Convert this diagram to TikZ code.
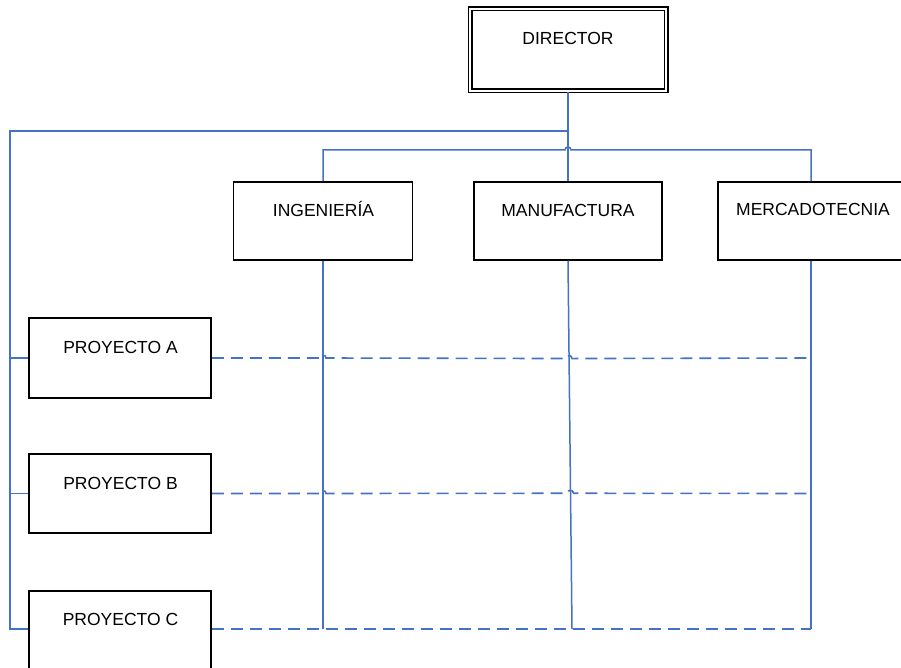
\documentclass[tikz,border=0pt]{standalone}
\usepackage{fontspec}
\setmainfont{Liberation Sans}
\usetikzlibrary{calc}
\definecolor{linkblue}{HTML}{4472C4}
\tikzset{
  box/.style={draw=black, line width=1.5pt, fill=white, inner sep=0pt},
  dirbox/.style={box, double, line width=1.4pt, double distance=2.2pt},
  lbl/.style={anchor=base, inner sep=0pt, font=\fontsize{17.5}{21}\selectfont},
  solidlink/.style={draw=linkblue, line width=1.5pt},
  dashlink/.style={draw=linkblue, line width=1.6pt, dash pattern=on 12pt off 7pt},
}
\begin{document}
\begin{tikzpicture}[x=1pt, y=-1pt]
  \clip (0,0) rectangle (901,668);

  % boxes
  \node[dirbox, minimum width=196pt, minimum height=82pt] (dir) at (568,50) {};
  \node[box, minimum width=179pt, minimum height=78pt] (ing) at (323,221) {};
  \node[box, minimum width=188pt, minimum height=78pt] (man) at (568,221) {};
  \node[box, minimum width=186pt, minimum height=78pt] (merc) at (811,221) {};
  \node[box, minimum width=182pt, minimum height=80pt] (pa) at (120,358) {};
  \node[box, minimum width=182pt, minimum height=79pt] (pb) at (120,493.5) {};
  \node[box, minimum width=182pt, minimum height=84pt] (pc) at (120,633) {};

  % labels
  \node[lbl] (dirT) at (568,45) {DIRECTOR};
  \node[lbl] (ingT) at (323.5,216.5) {INGENIERÍA};
  \node[lbl] (manT) at (568,216.5) {MANUFACTURA};
  \node[lbl] (mercT) at (813,216) {MERCADOTECNIA};
  \node[lbl] (paT) at (120.5,353) {PROYECTO A};
  \node[lbl] (pbT) at (120.5,489) {PROYECTO B};
  \node[lbl] (pcT) at (120.5,625) {PROYECTO C};

  % routing points
  \coordinate (tl) at (10,131);
  \coordinate (bl) at (10,629);
  \coordinate (bus) at (323,150);
  \coordinate (mb) at (572,629);

  % director to departments
  \draw[solidlink] (dir.south) -- (man.north);
  \draw[solidlink] (ing.north) -- (ing.north |- bus)
    -- ($(man.north |- bus)+(-3,0)$) arc[start angle=180, end angle=0, radius=3pt]
    -- (merc.north |- bus) -- (merc.north);

  % director to projects
  \draw[solidlink] (dir.south |- tl) -- (tl) -- (bl) -- (pc.west |- bl);
  \draw[solidlink] (tl |- pa.west) -- (pa.west);
  \draw[solidlink] (tl |- pb.west) -- (pb.west);

  % department verticals
  \draw[solidlink] (ing.south) -- (ing.south |- bl);
  \draw[solidlink] (man.south) -- (mb);
  \draw[solidlink] (merc.south) -- (merc.south |- bl);

  % project lines
  \draw[dashlink] (pa.east)
    -- ($(ing.south |- pa.east)+(-3,0)$) arc[start angle=180, end angle=0, radius=3pt]
    -- ($($(man.south)!0.2656!(mb)$ |- pa.east)+(-3,0)$) arc[start angle=180, end angle=0, radius=3pt]
    -- (merc.south |- pa.east);
  \draw[dashlink] (pb.east)
    -- ($(ing.south |- pb.east)+(-3,0)$) arc[start angle=180, end angle=0, radius=3pt]
    -- ($($(man.south)!0.6314!(mb)$ |- pb.east)+(-3,0)$) arc[start angle=180, end angle=0, radius=3pt]
    -- (merc.south |- pb.east);
  \draw[dashlink] (pc.east |- bl) -- (merc.south |- bl);
\end{tikzpicture}
\end{document}
